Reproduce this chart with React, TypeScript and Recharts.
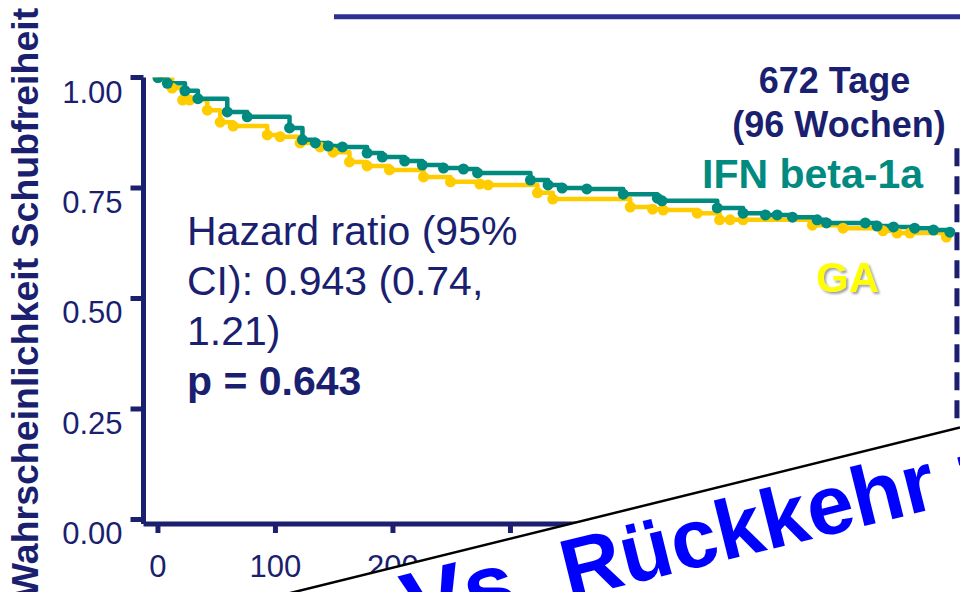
import React from 'react';
import { LineChart, Line, XAxis, YAxis, ReferenceLine } from 'recharts';

// Kaplan-Meier estimates (days since start, probability relapse-free)
const ifnDays = [0, 8, 23, 34, 59, 76, 112, 123, 134, 145, 157, 178, 191, 210, 225, 243, 260, 272, 317, 332, 344, 365, 396, 425, 429, 476, 498, 517, 527, 540, 561, 569, 602, 612, 626, 644, 660, 674];
const ifnSurvival = [1.0, 0.987, 0.97, 0.952, 0.922, 0.911, 0.886, 0.859, 0.852, 0.845, 0.843, 0.829, 0.82, 0.811, 0.802, 0.795, 0.793, 0.784, 0.768, 0.757, 0.75, 0.748, 0.736, 0.727, 0.721, 0.705, 0.693, 0.689, 0.689, 0.684, 0.678, 0.671, 0.671, 0.664, 0.662, 0.659, 0.655, 0.65];

const gaDays = [0, 12, 21, 27, 42, 53, 64, 93, 104, 121, 138, 149, 163, 178, 197, 226, 249, 274, 281, 323, 336, 402, 421, 430, 459, 478, 487, 498, 557, 583, 617, 629, 640, 671];
const gaSurvival = [1.0, 0.976, 0.949, 0.949, 0.926, 0.899, 0.89, 0.87, 0.866, 0.852, 0.843, 0.831, 0.809, 0.8, 0.791, 0.775, 0.764, 0.759, 0.757, 0.739, 0.725, 0.707, 0.702, 0.7, 0.693, 0.678, 0.678, 0.678, 0.666, 0.659, 0.653, 0.648, 0.648, 0.639];

const xTicks = [0, 100, 200, 300, 400, 500, 600];
const yTicks = [0, 0.25, 0.5, 0.75, 1];
const cutoffDay = 680; // "672 Tage" marker

const hazardLines = ['Hazard ratio (95%', 'CI): 0.943 (0.74,', '1.21)'];
const pValue = 'p = 0.643';

const NAVY = '#1b1f70';
const TEAL = '#008a80';
const GOLD = '#ffcc00';
const FONT = '"Liberation Sans", Arial, sans-serif';

const ifnData = ifnDays.map((d, i) => ({ day: d, s: ifnSurvival[i] }));
const gaData = gaDays.map((d, i) => ({ day: d, s: gaSurvival[i] }));

const YTick = ({ x, y, payload }: any) => (
  <text x={x} y={y + 25} textAnchor="end" fill={NAVY} fontSize={31} fontFamily={FONT}>
    {Number(payload.value).toFixed(2)}
  </text>
);

const XTick = ({ x, y, payload }: any) => (
  <text x={x} y={y + 44} textAnchor="middle" fill={NAVY} fontSize={31} fontFamily={FONT}>
    {payload.value}
  </text>
);

// banner edge: y = 516.5 - 0.247 * (x - 600)
const bannerY = (x: number) => 516.5 - 0.247 * (x - 600);

const App = () => {
  return (
    <div style={{ position: 'absolute', left: 0, top: 0, width: 960, height: 592, background: '#fff', overflow: 'hidden' }}>
      <LineChart width={960} height={592} margin={{ top: 77.5, right: 0, bottom: 0, left: 0 }}>
        <XAxis
          type="number"
          dataKey="day"
          domain={[-12.3, 682.6]}
          allowDataOverflow
          ticks={xTicks}
          height={68}
          stroke={NAVY}
          strokeWidth={5}
          tickSize={9}
          tickMargin={0}
          tickLine={{ stroke: NAVY, strokeWidth: 5 }}
          tick={<XTick />}
        />
        <YAxis
          type="number"
          domain={[-0.0102, 1]}
          allowDataOverflow
          ticks={yTicks}
          width={143.5}
          stroke={NAVY}
          strokeWidth={5}
          tickSize={13}
          tickMargin={8}
          tickLine={{ stroke: NAVY, strokeWidth: 5 }}
          tick={<YTick />}
        />
        <ReferenceLine
          segment={[{ x: cutoffDay, y: 0.84 }, { x: cutoffDay, y: -0.0102 }]}
          stroke={NAVY}
          strokeWidth={5}
          strokeDasharray="18 10"
        />
        <Line
          data={gaData}
          dataKey="s"
          type="stepAfter"
          stroke={GOLD}
          strokeWidth={4.5}
          strokeLinejoin="round"
          dot={{ r: 5.5, fill: GOLD, stroke: GOLD, strokeWidth: 0 }}
          isAnimationActive={false}
        />
        <Line
          data={ifnData}
          dataKey="s"
          type="stepAfter"
          stroke={TEAL}
          strokeWidth={4.5}
          strokeLinejoin="round"
          dot={{ r: 5.5, fill: TEAL, stroke: TEAL, strokeWidth: 0 }}
          isAnimationActive={false}
        />
      </LineChart>

      <svg width={960} height={592} style={{ position: 'absolute', left: 0, top: 0, pointerEvents: 'none' }}>
        <defs>
          <filter id="gaShadow" x="-20%" y="-20%" width="140%" height="140%">
            <feDropShadow dx={2} dy={2} stdDeviation={0.8} floodColor="#a0a0a0" />
          </filter>
        </defs>
        <line x1={334} y1={16.7} x2={960} y2={16.7} stroke="#2e3192" strokeWidth={5} />

        <text transform="translate(38,303) rotate(-90)" textAnchor="middle" fill={NAVY} fontSize={37.5} fontWeight="bold" fontFamily={FONT}>
          Wahrscheinlichkeit Schubfreiheit
        </text>

        {hazardLines.map((t, i) => (
          <text key={t} x={187} y={245 + i * 50} fill={NAVY} fontSize={41} fontFamily={FONT}>
            {t}
          </text>
        ))}
        <text x={187} y={395} fill={NAVY} fontSize={41} fontWeight="bold" fontFamily={FONT}>
          {pValue}
        </text>

        <text x={834.5} y={93} textAnchor="middle" fill={NAVY} fontSize={36} fontWeight="bold" fontFamily={FONT}>
          672 Tage
        </text>
        <text x={839} y={137} textAnchor="middle" fill={NAVY} fontSize={36} fontWeight="bold" fontFamily={FONT}>
          (96 Wochen)
        </text>
        <text x={812.5} y={188} textAnchor="middle" fill={TEAL} fontSize={41} fontWeight="bold" fontFamily={FONT}>
          IFN beta-1a
        </text>
        <text x={847.5} y={292} textAnchor="middle" fill="#ffff00" fontSize={42} fontWeight="bold" fontFamily={FONT} filter="url(#gaShadow)">
          GA
        </text>

        <polygon
          points={`0,${bannerY(0)} 960,${bannerY(960)} 960,900 0,900`}
          fill="#fff"
        />
        <line x1={0} y1={bannerY(0)} x2={960} y2={bannerY(960)} stroke="#000" strokeWidth={2.5} />
        <text transform="translate(412,638) rotate(-13.9)" fill="#0000ff" fontFamily={FONT} fontWeight="bold">
          <tspan fontSize={92}>Vs.</tspan>
          <tspan fontSize={84}> Rückkehr zu</tspan>
        </text>
      </svg>
    </div>
  );
};

export default App;
